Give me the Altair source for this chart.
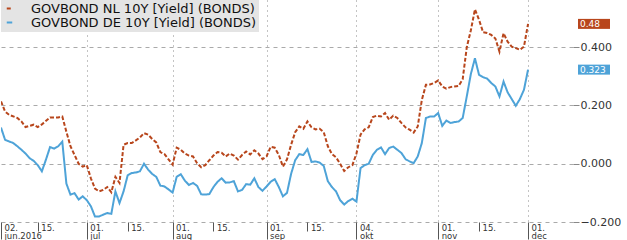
import json
import altair as alt
import pandas as pd

NL_NAME = "GOVBOND NL 10Y [Yield] (BONDS)"
DE_NAME = "GOVBOND DE 10Y [Yield] (BONDS)"

# trading-day index (0 = 02.06.2016, 3 Oct 2016 not traded) and yields
nl_day = [0, 1, 2, 4, 5, 6, 8, 9, 10, 12, 14, 15, 16, 17, 18, 19, 20, 21, 22, 23, 24, 25, 26, 27,
          28, 29, 30, 31, 32, 33, 34, 35, 36, 37, 38, 39, 40, 41, 42, 43, 44, 45, 46, 47, 48, 49,
          50, 51, 52, 53, 54, 55, 56, 57, 58, 59, 60, 61, 62, 63, 64, 65, 66, 67, 68, 69, 70, 71,
          72, 73, 74, 75, 76, 77, 78, 79, 80, 81, 82, 83, 84, 85, 86, 87, 88, 89, 90, 91, 92, 93,
          94, 95, 96, 97, 98, 99, 100, 101, 102, 103, 104, 105, 106, 107, 108, 109, 110, 111, 112,
          113, 114, 115, 116, 117, 118, 119, 120, 121, 122, 123, 124, 125, 126, 127, 128, 129]
nl_val = [0.214, 0.179, 0.168, 0.157, 0.145, 0.126, 0.134, 0.126, 0.135, 0.159, 0.159, 0.162,
          0.11, 0.06, 0.03, 0.0, -0.01, -0.005, -0.05, -0.085, -0.095, -0.09, -0.08, -0.098,
          -0.045, -0.066, 0.065, 0.071, 0.071, 0.08, 0.09, 0.105, 0.10, 0.085, 0.073, 0.04,
          0.033, 0.015, -0.003, 0.055, 0.048, 0.035, 0.028, 0.025, 0.002, -0.012, -0.005, 0.012,
          0.028, 0.040, 0.038, 0.025, 0.035, 0.028, 0.014, 0.030, 0.042, 0.032, 0.046, 0.035,
          0.016, 0.025, 0.058, 0.055, 0.03, -0.010, 0.015, 0.065, 0.108, 0.128, 0.120, 0.145,
          0.125, 0.118, 0.120, 0.108, 0.06, 0.033, 0.022, 0.0, -0.025, -0.012, -0.005, 0.035,
          0.10, 0.118, 0.125, 0.16, 0.165, 0.162, 0.174, 0.151, 0.165, 0.157, 0.140, 0.125,
          0.117, 0.107, 0.128, 0.219, 0.271, 0.272, 0.277, 0.286, 0.265, 0.258, 0.263, 0.265,
          0.267, 0.29, 0.40, 0.458, 0.53, 0.494, 0.451, 0.449, 0.442, 0.43, 0.385, 0.448, 0.419,
          0.402, 0.397, 0.391, 0.402, 0.48]

de_day = [0, 1, 3, 4, 5, 6, 7, 8, 9, 10, 11, 12, 13, 14, 15, 16, 17, 18, 19, 20, 21, 22, 23, 24,
          25, 26, 27, 28, 29, 30, 31, 32, 33, 34, 35, 36, 37, 38, 39, 40, 41, 42, 43, 44, 45, 46,
          47, 48, 49, 50, 51, 52, 53, 54, 55, 56, 57, 58, 59, 60, 61, 62, 63, 64, 65, 66, 67, 68,
          69, 70, 71, 72, 73, 74, 75, 76, 77, 78, 79, 80, 81, 82, 83, 84, 85, 86, 87, 88, 89, 90,
          91, 92, 93, 94, 95, 96, 97, 98, 99, 100, 101, 102, 103, 104, 105, 106, 107, 108, 109,
          110, 111, 112, 113, 114, 115, 116, 117, 118, 119, 120, 121, 122, 123, 124, 125, 126,
          127, 128, 129]
de_val = [0.124, 0.082, 0.071, 0.060, 0.048, 0.035, 0.019, 0.010, -0.005, -0.026, 0.014, 0.057,
          0.052, 0.060, 0.076, -0.068, -0.106, -0.101, -0.123, -0.112, -0.125, -0.146, -0.181,
          -0.181, -0.175, -0.169, -0.172, -0.095, -0.135, -0.095, -0.040, -0.032, -0.030, -0.026,
          0.0, -0.020, -0.035, -0.045, -0.075, -0.078, -0.088, -0.099, -0.045, -0.036, -0.058,
          -0.073, -0.066, -0.076, -0.105, -0.106, -0.104, -0.080, -0.062, -0.050, -0.065, -0.064,
          -0.060, -0.095, -0.090, -0.070, -0.072, -0.050, -0.080, -0.093, -0.078, -0.062, -0.053,
          -0.080, -0.112, -0.100, -0.035, 0.012, 0.033, 0.030, 0.050, 0.006, 0.008, 0.004,
          -0.008, -0.06, -0.080, -0.095, -0.125, -0.140, -0.128, -0.120, -0.13, -0.015, -0.005,
          0.0, 0.030, 0.048, 0.056, 0.033, 0.054, 0.059, 0.048, 0.037, 0.016, 0.008, 0.002,
          0.025, 0.071, 0.157, 0.162, 0.162, 0.174, 0.130, 0.148, 0.140, 0.143, 0.145, 0.157,
          0.231, 0.308, 0.362, 0.305, 0.297, 0.292, 0.277, 0.265, 0.231, 0.282, 0.245, 0.222,
          0.199, 0.222, 0.254, 0.323]

tick_days = [0, 9, 21, 31, 42, 52, 65, 75, 87, 107, 117, 129]
tick_top = ["02.", "15.", "01.", "15.", "01.", "15.", "01.", "15.", "04.", "01.", "15.", "01."]
tick_bottom = ["jun.2016", "", "jul", "", "aug", "", "sep", "", "okt", "nov", "", "dec"]
month_days = [0, 21, 42, 65, 87, 107, 129]
grid_days = [21, 42, 65, 87, 107, 129]
y_ticks = [-0.2, 0.0, 0.2, 0.4]
badge_text = ["0.48", "0.323"]

ORANGE = "#b8461c"
BLUE = "#4ea3d8"
FONT = "DejaVu Sans"

df = pd.concat([
    pd.DataFrame({"day": nl_day, "value": nl_val, "series": NL_NAME}),
    pd.DataFrame({"day": de_day, "value": de_val, "series": DE_NAME}),
])
badges = pd.DataFrame({
    "series": [NL_NAME, DE_NAME],
    "value": [nl_val[-1], de_val[-1]],
    "label": badge_text,
})

label_arrays = [[t, b] for t, b in zip(tick_top, tick_bottom)]
label_expr = f"{json.dumps(label_arrays)}[indexof({json.dumps(tick_days)}, datum.value)]"
month_test = f"indexof({json.dumps(month_days)}, datum.value) >= 0"
grid_test = f"indexof({json.dumps(grid_days)}, datum.value) >= 0"

x_enc = alt.X(
    "day:Q",
    scale=alt.Scale(domain=[0, 140], nice=False, zero=False),
    axis=alt.Axis(
        values=tick_days, labelExpr=label_expr, title=None, domain=False,
        grid=True, gridDash=[1, 4], gridColor="#888", gridWidth=1,
        gridOpacity={"condition": {"test": grid_test, "value": 1}, "value": 0},
        ticks=True, tickColor="#555", tickWidth=1,
        tickSize={"condition": {"test": month_test, "value": 17}, "value": 9},
        labelAlign="left", labelBaseline="top", labelOffset=3,
        labelPadding={"condition": {"test": month_test, "value": -16}, "value": -8},
        labelFont=FONT, labelFontSize=8.5, labelLineHeight=8.5, labelColor="#333",
        labelFlush=False, labelOverlap=False,
    ),
)
y_scale = alt.Scale(domain=[-0.2, 0.562], nice=False, zero=False)
y_enc = alt.Y(
    "value:Q", scale=y_scale,
    axis=alt.Axis(
        orient="right", values=y_ticks, format=".3f", title=None, domain=False,
        grid=True, gridDash=[4, 4], gridColor="#aaa", gridWidth=1,
        tickSize=6, tickColor="#888", labelPadding=1,
        labelFont=FONT, labelFontSize=11, labelColor="#333",
    ),
)

color_scale = alt.Scale(domain=[NL_NAME, DE_NAME], range=[ORANGE, BLUE])
legend = alt.Legend(
    title=None, orient="none", legendX=0, legendY=0, fillColor="#e4e4e4",
    padding=2, symbolType="stroke", symbolSize=30, symbolStrokeWidth=2,
    labelFont=FONT, labelFontSize=13, labelColor="#111", rowPadding=0,
    labelOffset=15, labelLimit=500,
)

lines = alt.Chart(df).mark_line(strokeWidth=2, clip=True).encode(
    x=x_enc,
    y=y_enc,
    color=alt.Color("series:N", scale=color_scale, legend=legend),
    strokeDash=alt.StrokeDash(
        "series:N",
        scale=alt.Scale(domain=[NL_NAME, DE_NAME], range=[[4, 2], [1, 0]]),
        legend=legend,
    ),
)

badge_rect = alt.Chart(badges).mark_rect(width=32, height=10).encode(
    x=alt.value(593),
    y=alt.Y("value:Q", scale=y_scale),
    color=alt.Color("series:N", scale=color_scale, legend=None),
)
badge_label = alt.Chart(badges).mark_text(
    align="left", baseline="middle", font=FONT, fontSize=9, color="white"
).encode(
    x=alt.value(579),
    y=alt.Y("value:Q", scale=y_scale),
    text="label:N",
)

chart = alt.layer(lines, badge_rect, badge_label).properties(
    width=572, height=222, padding=0, background="white"
).configure_view(stroke=None)

chart.save("out.html", embed_options={"renderer": "svg", "actions": False})
